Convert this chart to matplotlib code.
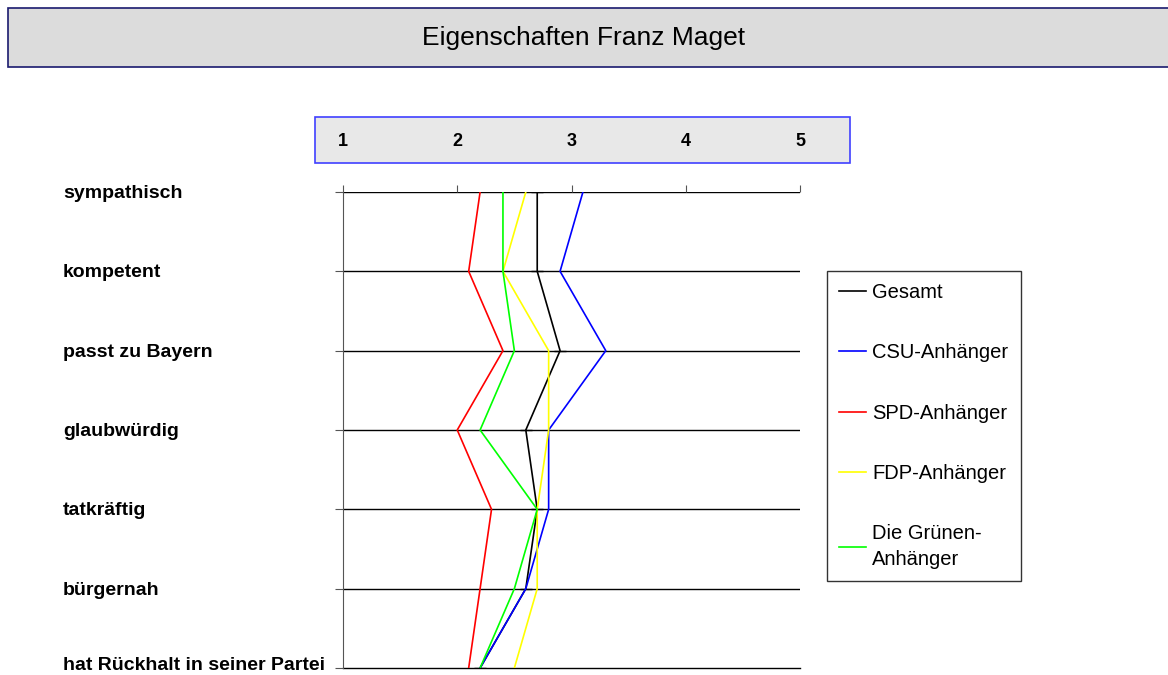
import matplotlib.pyplot as plt
from matplotlib.patches import Rectangle

categories = ["sympathisch", "kompetent", "passt zu Bayern", "glaubwürdig",
              "tatkräftig", "bürgernah", "hat Rückhalt in seiner Partei"]
series_names = ["Gesamt", "CSU-Anhänger", "SPD-Anhänger", "FDP-Anhänger",
                "Die Grünen-\nAnhänger"]
gesamt = [2.7, 2.7, 2.9, 2.6, 2.7, 2.6, 2.2]
csu = [3.1, 2.9, 3.3, 2.8, 2.8, 2.6, 2.2]
spd = [2.2, 2.1, 2.4, 2.0, 2.3, 2.2, 2.1]
fdp = [2.6, 2.4, 2.8, 2.8, 2.7, 2.7, 2.5]
gruene = [2.4, 2.4, 2.5, 2.2, 2.7, 2.5, 2.2]
colors = ["#000000", "#0000ff", "#ff0000", "#ffff00", "#00ff00"]
x_ticks = [1, 2, 3, 4, 5]

plt.rcParams["font.family"] = ["Liberation Sans Narrow", "Liberation Sans", "DejaVu Sans"]

fig = plt.figure(figsize=(11.68, 6.75), dpi=100)
W, H = 1168, 675

# Title box
fig.patches.append(Rectangle((8 / W, 1 - 67 / H), (W - 6) / W, 59 / H,
                             transform=fig.transFigure, facecolor="#dcdcdc",
                             edgecolor="#1a1a6e", lw=1.2))
fig.text(0.5, 1 - 38 / H, "Eigenschaften Franz Maget", ha="center", va="center",
         fontsize=19)

# Scale box
fig.patches.append(Rectangle((315 / W, 1 - 163 / H), 535 / W, 46 / H,
                             transform=fig.transFigure, facecolor="#e8e8e8",
                             edgecolor="#4040ff", lw=1.2))

ax = fig.add_axes([343 / W, 1 - 668 / H, 457 / W, 476 / H])
ypos = list(range(len(categories)))
for vals, name, c in zip([gesamt, csu, spd, fdp, gruene], series_names, colors):
    ax.plot(vals, ypos, color=c, lw=1.2, label=name,
            marker="_" if name == "Gesamt" else None, markersize=8)

ax.set_xlim(1, 5)
ax.set_ylim(len(categories) - 1, 0)
ax.xaxis.tick_top()
ax.set_xticks(x_ticks)
ax.set_xticklabels([])
ax.tick_params(axis="x", length=5, color="#555555")
ax.set_yticks(ypos)
ax.set_yticklabels([])
ax.tick_params(axis="y", length=6, color="#555555")
for y in ypos:
    ax.axhline(y, color="black", lw=1, zorder=0,
               clip_on=y != ypos[-1])
for s in ["right", "bottom", "top"]:
    ax.spines[s].set_visible(False)
ax.spines["left"].set_color("#555555")

# Scale labels
for v in x_ticks:
    xf = (343 + (v - 1) * 457 / 4) / W
    fig.text(xf, 1 - 141 / H, str(v), ha="center", va="center",
             fontsize=13, fontweight="bold")

# Category labels
for y, cat in zip(ypos, categories):
    yf = ax.transData.transform((1, y))[1] / fig.dpi / 6.75
    shift = 3 if y == ypos[-1] else -1.5
    fig.text(63 / W, yf + shift / H, cat, ha="left", va="center", fontsize=14,
             fontweight="bold")

leg = fig.legend(loc="upper left", bbox_to_anchor=(827 / W, 1 - 271 / H),
                 frameon=True, fancybox=False, fontsize=14.5, handlelength=1.35,
                 handletextpad=0.3, labelspacing=2.05, borderpad=0.6,
                 borderaxespad=0)
leg.get_frame().set_edgecolor("black")
leg.get_frame().set_linewidth(1)
for line in leg.get_lines():
    line.set_marker("")
leg.get_texts()[-1].set_linespacing(1.45)

fig.savefig("out.png", dpi=100)
